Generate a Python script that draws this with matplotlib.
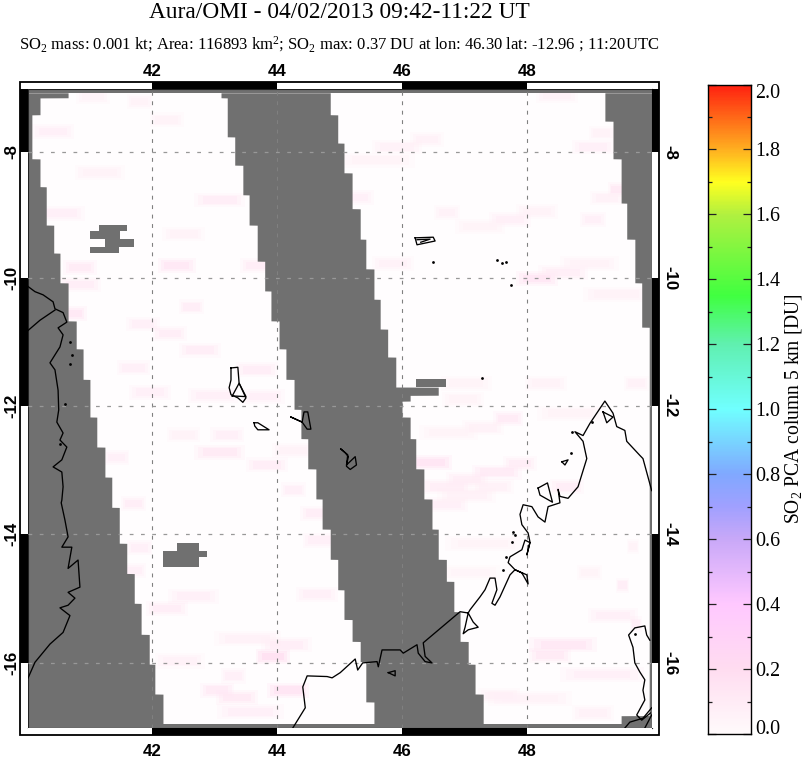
import numpy as np
import matplotlib
matplotlib.use('Agg')
import matplotlib.pyplot as plt
from matplotlib.colors import LinearSegmentedColormap
from matplotlib.patches import Rectangle
from matplotlib.transforms import blended_transform_factory as blend

plt.rcParams['mathtext.fontset'] = 'custom'
plt.rcParams['mathtext.rm'] = 'Liberation Serif'
plt.rcParams['mathtext.bf'] = 'Liberation Serif:bold'

# --- text
title = 'Aura/OMI - 04/02/2013 09:42-11:22 UT'
subtitle = (r'SO$\mathregular{_2}$ mass: 0.001 kt; Area: 116893 km$\mathregular{^2}$; '
            r'SO$\mathregular{_2}$ max: 0.37 DU at lon: 46.30 lat: -12.96 ; 11:20UTC')
cbar_label = r'SO$\mathregular{_2}$ PCA column 5 km [DU]'
lon_ticks = [42, 44, 46, 48]
lat_ticks = [-8, -10, -12, -14, -16]

# --- swath edges: latitude where each step starts, longitude of the edge
left_lat = [-7.06, -7.14, -7.41, -8.11, -8.55, -9.16, -9.60, -10.07, -10.67, -11.11, -11.59, -12.18,
            -12.65, -13.12, -13.59, -14.15, -14.62, -15.08, -15.56, -16.02, -16.48]
left_lon = [40.65, 40.20, 40.07, 40.20, 40.30, 40.42, 40.52, 40.65, 40.78, 40.89, 41.00, 41.11,
            41.24, 41.35, 41.47, 41.59, 41.71, 41.82, 41.95, 42.04, 42.17]
midl_lat = [-7.06, -7.14, -7.76, -8.21, -8.68, -9.16, -9.73, -10.20, -10.67, -11.11, -11.59, -12.06,
            -12.52, -12.99, -13.46, -13.93, -14.40, -14.87, -15.33, -15.67, -15.98, -16.60]
midl_lon = [43.10, 43.20, 43.32, 43.45, 43.55, 43.68, 43.80, 43.90, 44.03, 44.14, 44.27, 44.38,
            44.49, 44.62, 44.72, 44.85, 44.97, 45.07, 45.20, 45.33, 45.42, 45.55]
midr_lat = [-7.06, -7.41, -7.86, -8.33, -8.90, -9.38, -9.85, -10.33, -10.80, -11.24, -11.71, -11.84,
            -11.93, -12.18, -12.52, -12.99, -13.46, -13.93, -14.40, -14.74, -15.21, -15.67, -16.02, -16.48]
midr_lon = [44.85, 44.97, 45.07, 45.20, 45.33, 45.42, 45.55, 45.65, 45.77, 45.90, 46.58, 46.13,
            46.00, 46.13, 46.22, 46.35, 46.48, 46.58, 46.71, 46.83, 46.93, 47.06, 47.17, 47.30]
right_lat = [-7.06, -7.51, -8.11, -8.81, -9.38, -10.07, -10.77, -16.81]
right_lon = [49.25, 49.38, 49.51, 49.60, 49.73, 49.84, 49.96, 49.51]
swath_top = -7.06
swath_bottom = -16.94

# --- missing-data blocks inside the swath
gap_lat0 = [-9.16, -9.25, -9.38, -9.50, -14.15, -14.27, -14.36, -11.59]
gap_lat1 = [-9.25, -9.38, -9.50, -9.60, -14.27, -14.36, -14.52, -11.71]
gap_lon0 = [41.15, 41.00, 41.24, 41.00, 42.40, 42.17, 42.17, 46.22]
gap_lon1 = [41.59, 41.48, 41.71, 41.47, 42.75, 42.88, 42.75, 46.71]

# --- SO2 retrieval cells above background
cell_lon = [42.39, 40.41, 41.05, 41.80, 42.23, 41.16, 40.52, 43.08, 40.84, 40.84, 43.68, 42.50,
            40.71, 41.85, 42.63, 42.28, 42.76, 41.70, 41.96, 42.97, 43.68, 43.78, 43.08, 43.84,
            41.43, 42.50, 44.25, 43.20, 41.70, 41.80, 41.70, 42.66, 42.23, 43.93, 44.15, 43.52,
            43.04, 43.35, 44.18, 43.30, 43.57, 42.44, 44.64, 44.26, 44.68, 44.64,
            45.28, 45.92, 46.40, 45.60, 46.72, 47.73, 47.25, 48.16, 49.06, 49.20, 49.44, 49.28,
            48.48, 48.16, 48.58, 49.00, 45.86, 49.06, 49.44, 47.70, 46.47, 47.52, 47.89, 47.04,
            46.72, 47.46, 47.04, 46.72, 48.64, 47.30, 46.75, 46.98, 48.30, 49.76, 48.58, 48.37,
            49.38, 49.53, 49.20, 49.75, 48.05, 47.55, 49.06, 47.03, 48.70, 49.00, 47.30, 47.10, 49.70]
cell_lat = [-9.80, -7.68, -7.12, -7.20, -7.49, -8.33, -8.97, -8.76, -9.83, -10.10, -9.80, -9.30,
            -10.55, -10.72, -10.45, -10.87, -11.13, -11.41, -11.79, -11.84, -11.44, -11.86, -12.73, -12.93,
            -12.81, -12.46, -12.70, -12.46, -13.53, -14.22, -14.57, -14.97, -15.16, -15.90, -15.72, -15.63,
            -16.42, -16.53, -16.42, -16.20, -16.75, -15.97, -13.68, -13.32, -14.10, -14.94,
            -8.72, -7.92, -7.80, -8.13, -8.96, -9.07, -9.18, -8.94, -7.92, -7.70, -8.60, -8.73,
            -7.10, -10.00, -9.91, -9.77, -9.77, -9.07, -10.25, -12.20, -12.89, -13.04, -12.91, -13.16,
            -13.27, -13.27, -13.40, -13.55, -13.27, -12.35, -12.42, -11.90, -11.65, -11.65, -15.72, -15.88,
            -15.27, -14.80, -16.18, -15.40, -16.55, -16.50, -16.77, -11.65, -12.12, -14.60, -14.15, -14.60, -14.20]
cell_width = [.45, .5, .4, .3, .4, .6, .6, .6, .4, .5, .4, .5,
              .35, .4, .3, .4, .5, .4, .5, .6, .5, .5, .6, .5,
              .3, .4, .5, .4, .3, .3, .3, .6, .5, .4, .6, .8,
              .4, .5, .5, .3, .8, .6, .4, .3, .4, .5,
              .4, .6, .4, .9, .3, .5, .6, .5, .5, .3, .2, .4,
              .5, .5, .6, .7, .5, .3, .8, .35, .5, .6, .4, .5,
              .6, .5, .7, .5, .4, .5, .7, .5, .5, .3, .8, .5,
              .6, .15, 1.0, .15, 1.0, .5, .5, .6, .8, .3, .9, .7, .15]
cell_value = [.14, .08, .06, .06, .06, .06, .08, .10, .12, .10, .10, .06,
              .14, .08, .10, .10, .10, .08, .08, .08, .10, .08, .13, .10,
              .08, .06, .06, .08, .10, .08, .08, .08, .10, .20, .10, .07,
              .12, .13, .17, .08, .08, .07, .10, .08, .08, .08,
              .08, .07, .07, .05, .07, .08, .05, .06, .08, .06, .13, .07,
              .06, .15, .09, .06, .07, .08, .06, .12, .17, .12, .10, .09,
              .09, .07, .07, .08, .10, .07, .05, .05, .06, .07, .14, .13,
              .08, .10, .08, .10, .06, .07, .07, .05, .05, .05, .05, .04, .06]
cell_height = 0.13

# --- coastlines, (lon list, lat list)
africa_lon = [40.01, 40.12, 40.25, 40.41, 40.44, 40.57, 40.63, 40.49, 40.57, 40.52, 40.36, 40.44, 40.49, 40.50,
              40.47, 40.57, 40.52, 40.63, 40.55, 40.41, 40.55, 40.57, 40.55, 40.54, 40.60, 40.65, 40.55, 40.71,
              40.65, 40.81, 40.84, 40.65, 40.76, 40.65, 40.52, 40.68, 40.57, 40.36, 40.12, 40.01]
africa_lat = [-10.13, -10.21, -10.26, -10.37, -10.48, -10.54, -10.69, -10.78, -10.89, -11.08, -11.33, -11.44, -11.76, -12.07,
              -12.26, -12.43, -12.54, -12.65, -12.85, -12.96, -13.04, -13.27, -13.48, -13.52, -13.79, -14.05, -14.21, -14.21,
              -14.54, -14.41, -14.83, -14.91, -15.00, -15.11, -15.15, -15.27, -15.53, -15.71, -15.99, -16.23]
border_lon = [40.01, 40.20, 40.44]
border_lat = [-10.82, -10.66, -10.50]
mada_lon = [44.25, 44.45, 44.41, 44.48, 44.80, 44.88, 45.01, 45.25, 45.29, 45.37, 45.60, 45.62, 45.68, 45.97, 46.02,
            46.24, 46.26, 46.37, 46.48, 46.37, 46.34, 46.93, 47.06, 47.14, 47.22, 47.06, 46.98, 47.01, 47.06, 47.09,
            47.25, 47.33, 47.41, 47.49, 47.52, 47.44, 47.49, 47.57, 47.73, 47.81, 48.00, 48.02, 47.92, 47.81, 47.70,
            47.73, 47.92, 47.97, 48.05, 48.00, 48.05, 48.02, 47.92, 47.89, 47.94, 48.08, 48.18, 48.29, 48.34, 48.53,
            48.50, 48.53, 48.66, 48.82, 48.96, 48.90, 48.77, 48.90, 49.01, 49.25, 49.38, 49.44, 49.57, 49.60, 49.81,
            49.86, 50.00]
mada_lat = [-17.00, -16.69, -16.37, -16.20, -16.21, -16.23, -16.15, -15.94, -16.11, -16.00, -15.98, -16.06, -15.80, -15.80, -15.85,
            -15.72, -15.85, -15.98, -16.00, -15.90, -15.69, -15.21, -15.23, -15.37, -15.45, -15.49, -15.55, -15.45, -15.23, -15.18,
            -14.98, -14.87, -14.69, -14.69, -14.87, -15.08, -15.11, -14.98, -14.64, -14.56, -14.64, -14.78, -14.61, -14.56, -14.45,
            -14.36, -14.25, -14.10, -14.14, -14.33, -14.13, -13.99, -13.86, -13.70, -13.55, -13.58, -13.74, -13.82, -13.58, -13.52,
            -13.31, -13.42, -13.45, -13.27, -12.83, -12.56, -12.41, -12.47, -12.28, -11.93, -12.12, -12.33, -12.39, -12.56, -12.78,
            -12.83, -13.33]
se_lon = [49.97, 49.92, 49.89, 49.73, 49.63, 49.70, 49.73, 49.81, 49.89, 49.86, 49.89, 49.76, 49.84, 49.98]
se_lat = [-15.65, -15.57, -15.43, -15.46, -15.57, -15.76, -16.00, -16.14, -16.26, -16.42, -16.57, -16.80, -16.88, -16.77]
corner1_lon = [49.57, 49.65, 49.86, 50.00]
corner1_lat = [-17.00, -16.91, -16.85, -16.69]
corner2_lon = [49.89, 50.00]
corner2_lat = [-17.00, -16.80]
islands = [
    ([43.26, 43.37, 43.39, 43.50, 43.45, 43.37, 43.26, 43.23, 43.26, 43.26],
     [-11.41, -11.40, -11.65, -11.88, -11.95, -11.88, -11.83, -11.72, -11.60, -11.41]),
    ([43.28, 43.39, 43.50, 43.28], [-11.85, -11.65, -11.86, -11.85]),
    ([43.63, 43.69, 43.87, 43.69, 43.64, 43.63], [-12.27, -12.27, -12.38, -12.38, -12.32, -12.27]),
    ([44.22, 44.40, 44.43, 44.49, 44.54, 44.48, 44.40, 44.22], [-12.18, -12.26, -12.10, -12.10, -12.37, -12.37, -12.26, -12.18]),
    ([45.02, 45.09, 45.14, 45.11, 45.25, 45.27, 45.17, 45.11, 45.13, 45.02], [-12.68, -12.74, -12.80, -12.93, -12.80, -12.93, -13.00, -12.95, -12.77, -12.68]),
    ([46.21, 46.50, 46.53, 46.24, 46.21], [-9.36, -9.35, -9.41, -9.47, -9.36]),
    ([46.24, 46.45, 46.30], [-9.39, -9.38, -9.43]),
    ([48.18, 48.33, 48.41, 48.21, 48.18], [-13.29, -13.21, -13.51, -13.40, -13.29]),
    ([48.56, 48.66, 48.61, 48.56], [-12.88, -12.85, -12.93, -12.88]),
    ([49.22, 49.38, 49.28, 49.22], [-12.10, -12.18, -12.27, -12.10]),
    ([45.78, 45.89, 45.89, 45.78], [-16.15, -16.12, -16.20, -16.15]),
]
dot_lon = [46.50, 47.52, 47.60, 47.67, 47.75, 47.28, 48.71, 48.72, 49.04, 47.78, 47.81, 47.76, 47.67, 47.62,
           40.68, 40.71, 40.68, 40.60, 40.52, 49.73]
dot_lat = [-9.74, -9.71, -9.76, -9.74, -10.11, -11.57, -12.74, -12.41, -12.26, -13.97, -14.02, -14.13, -14.36, -14.56,
           -11.00, -11.20, -11.35, -11.98, -12.60, -15.55]

# --- colour scale
cmap_values = [0.0, 0.2, 0.4, 0.6, 0.7, 0.8, 1.0, 1.2, 1.35, 1.6, 1.7, 1.8, 2.0]
cmap_colors = ['#fffafb', '#ffdcf0', '#ffc8ff', '#c8a8f8', '#a0a0ff', '#80a8ff', '#70ffff',
               '#60f0b0', '#40ff40', '#b0f040', '#ffff20', '#ffb020', '#ff2010']
cbar_ticks = [0.0, 0.2, 0.4, 0.6, 0.8, 1.0, 1.2, 1.4, 1.6, 1.8, 2.0]
cbar_minor = [0.1, 0.3, 0.5, 0.7, 0.9, 1.1, 1.3, 1.5, 1.7, 1.9]

GRAY = '#707070'
W, H = 807, 759
cmap = LinearSegmentedColormap.from_list('so2', [(v / 2.0, c) for v, c in zip(cmap_values, cmap_colors)], N=512)


def merc(lat):
    return np.degrees(np.log(np.tan(np.pi / 4 + np.radians(lat) / 2)))


def inv_merc(y):
    return np.degrees(2 * np.arctan(np.exp(np.radians(y))) - np.pi / 2)


def edge(q, lats, lons):
    idx = np.searchsorted(-np.asarray(lats), -q, side='right') - 1
    return np.asarray(lons)[np.clip(idx, 0, len(lons) - 1)]


fig = plt.figure(figsize=(W / 100, H / 100), dpi=100, facecolor='white')
ax = fig.add_axes([27.5 / W, 1 - 728 / H, 624.2 / W, 639 / H])
ax.set_facecolor('#fffdfe')
ax.set_yscale('function', functions=(merc, inv_merc))
ax.set_xlim(40, 50)
ax.set_ylim(-17, -7)

# retrieval cells first (soft halo, then core), then the gray no-data regions over them
for grow_w, grow_h, scale in [(1.35, 1.8, 0.22), (1.15, 1.3, 0.35), (0.9, 0.9, 0.6)]:
    for lo, la, w, v in zip(cell_lon, cell_lat, cell_width, cell_value):
        hw = w * grow_w / 2
        hh = cell_height * grow_h / 2
        ax.fill_between([lo - hw, lo + hw], la - hh, la + hh,
                        color=cmap(v / 2.0), alpha=scale, lw=0, zorder=1)

q = np.linspace(swath_top - 1e-4, swath_bottom + 1e-4, 4000)
fk = dict(color=GRAY, lw=0, zorder=2, antialiased=False)
ax.fill_betweenx(q, 40, edge(q, left_lat, left_lon), **fk)
ax.fill_betweenx(q, edge(q, midl_lat, midl_lon), edge(q, midr_lat, midr_lon), **fk)
ax.fill_betweenx(q, edge(q, right_lat, right_lon), 50, **fk)
ax.fill_between([40, 50], -7, swath_top, **fk)
ax.fill_between([40, 50], swath_bottom, -17, **fk)
for a0, a1, b0, b1 in zip(gap_lat0, gap_lat1, gap_lon0, gap_lon1):
    ax.fill_between([b0, b1], a0, a1, **fk)

# graticule
for lo in lon_ticks:
    ax.axvline(lo, color='#808080', lw=0.8, dashes=(3.5, 5), zorder=3)
for la in lat_ticks:
    ax.axhline(la, color='#989898', lw=0.9, dashes=(3, 6), zorder=3)

# coast
for xs, ys in [(africa_lon, africa_lat), (border_lon, border_lat), (mada_lon, mada_lat), (se_lon, se_lat),
               (corner1_lon, corner1_lat), (corner2_lon, corner2_lat)] + islands:
    ax.plot(xs, ys, color='black', lw=0.95, zorder=4, solid_joinstyle='round')
ax.scatter(dot_lon, dot_lat, s=4, color='black', lw=0, zorder=4)

# frame with alternating bands
for s in ax.spines.values():
    s.set_linewidth(0.8)
    s.set_color('#222222')
ax.set_xticks([])
ax.set_yticks([])
ax.minorticks_off()
ax.tick_params(which='both', length=0, labelleft=False, labelbottom=False)
bw_x = 7.5 / 624.2
bw_y = 7.0 / 639
tx = blend(ax.transData, ax.transAxes)
ty = blend(ax.transAxes, ax.transData)
xedges = [40, 42, 44, 46, 48, 50]
yedges = [-7, -8, -10, -12, -14, -16, -17]
for i in range(5):
    c = 'black' if i % 2 == 1 else 'white'
    for y0 in (1, -bw_y):
        ax.add_patch(Rectangle((xedges[i], y0), xedges[i + 1] - xedges[i], bw_y, transform=tx,
                               facecolor=c, edgecolor='none', clip_on=False, zorder=5))
for i in range(6):
    c = 'black' if i % 2 == 0 else 'white'
    for x0 in (-bw_x, 1):
        ax.add_patch(Rectangle((x0, yedges[i + 1]), bw_x, yedges[i] - yedges[i + 1], transform=ty,
                               facecolor=c, edgecolor='none', clip_on=False, zorder=5))
ax.add_patch(Rectangle((-bw_x, -bw_y), 1 + 2 * bw_x, 1 + 2 * bw_y, transform=ax.transAxes, fill=False,
                       edgecolor='black', lw=1.3, clip_on=False, zorder=6))

# map tick labels
lab = dict(family='Liberation Sans', weight='bold', fontsize=12.2, color='black')
for lo in lon_ticks:
    ax.text(lo, 1.0 + 17.5 / 639, str(lo), transform=tx, ha='center', va='center', **lab)
    ax.text(lo, -23.5 / 639, str(lo), transform=tx, ha='center', va='center', **lab)
for la in lat_ticks:
    ax.text(-16 / 624.2, la, str(la), transform=ty, rotation=90, ha='center', va='center', **lab)
    ax.text(1 + 18 / 624.2, la, str(la), transform=ty, rotation=270, ha='center', va='center', **lab)

fig.text(339.5 / W, 1 - 12 / H, title, family='Liberation Serif', fontsize=16.8, ha='center', va='center')
fig.text(339.5 / W, 1 - 44 / H, subtitle, family='Liberation Serif', fontsize=11.95, weight='normal',
         ha='center', va='center')

# colour bar
cax = fig.add_axes([708 / W, 1 - 734 / H, 43 / W, 649.5 / H])
grad = np.linspace(0, 2, 512)
cax.pcolormesh([0, 1], np.linspace(0, 2, 513), grad[:, None], cmap=cmap, vmin=0, vmax=2, shading='flat')
cax.set_xticks([])
cax.set_ylim(0, 2)
cax.set_yticks(cbar_ticks)
cax.set_yticklabels([f'{t:.1f}' for t in cbar_ticks], family='Liberation Serif', fontsize=14.4)
cax.set_yticks(cbar_minor, minor=True)
cax.tick_params(axis='y', which='major', left=True, right=True, direction='in', length=6, width=0.9,
                color='#222222', labelleft=False, labelright=True, pad=3)
cax.tick_params(axis='y', which='minor', left=True, right=True, direction='in', length=3, width=0.9, color='#222222')
labels = cax.get_yticklabels()
labels[0].set_va('baseline')
labels[-1].set_va('top')
for s in cax.spines.values():
    s.set_linewidth(1.0)
fig.text(793 / W, 1 - 409 / H, cbar_label, family='Liberation Serif', fontsize=14.1, rotation=90,
         ha='center', va='center')

fig.savefig('out.png', dpi=100)
